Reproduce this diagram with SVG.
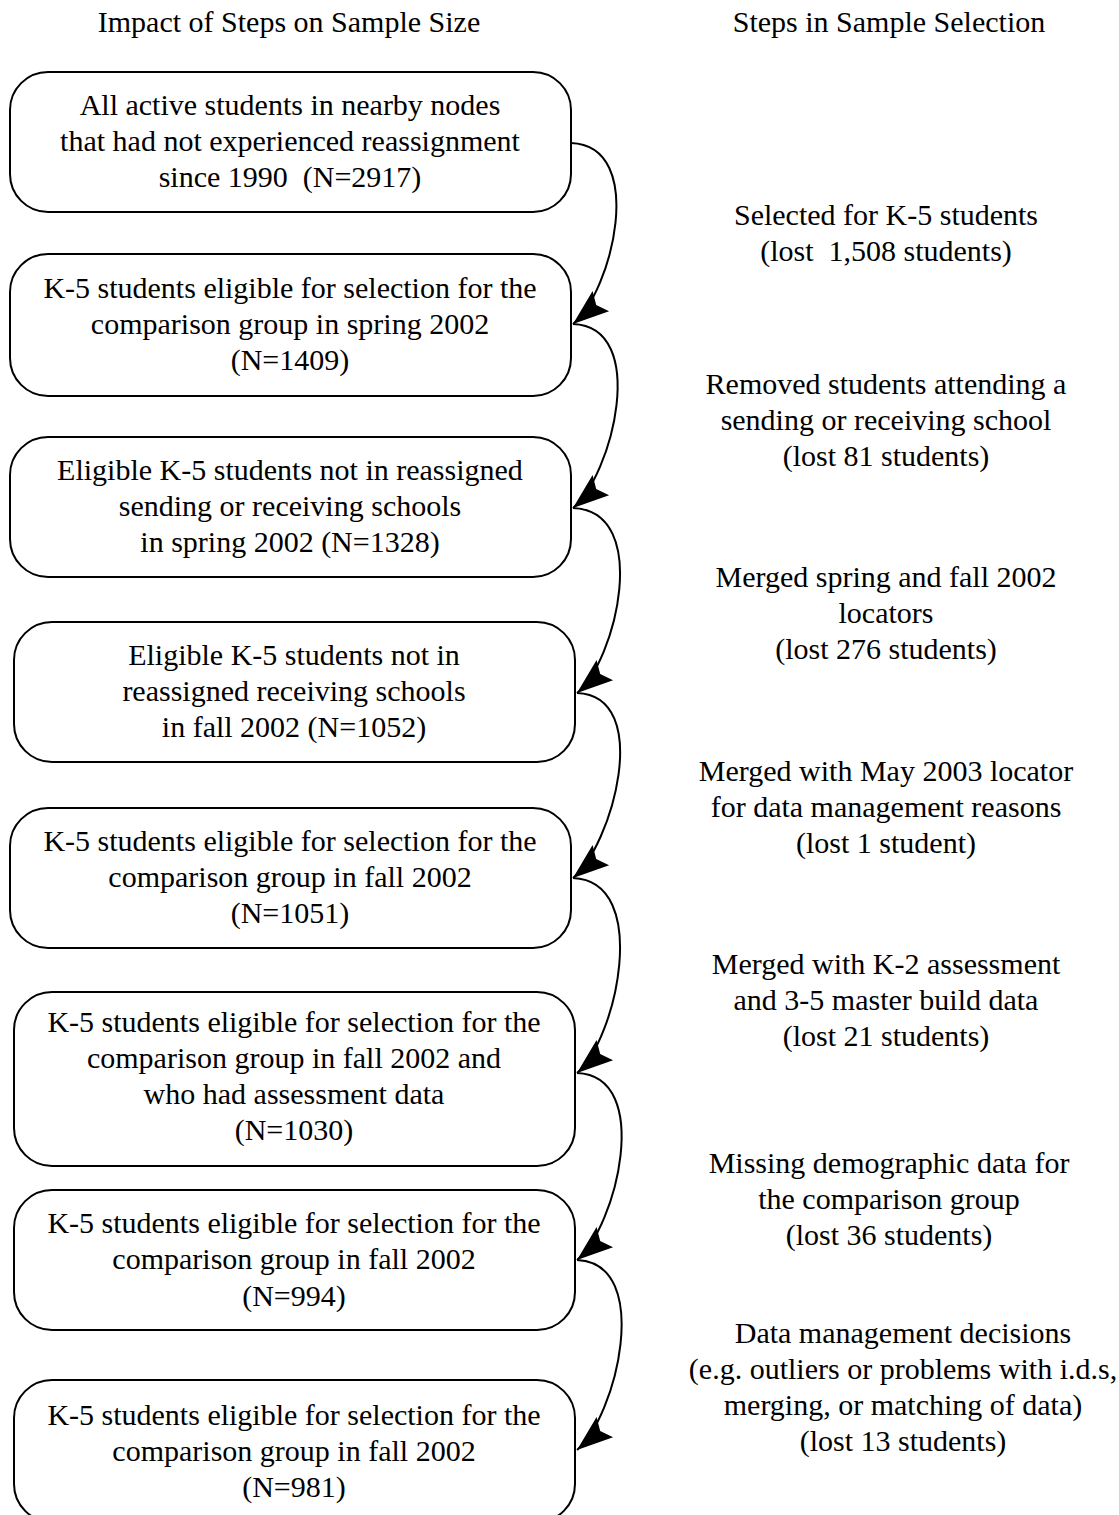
<svg xmlns="http://www.w3.org/2000/svg" width="1119" height="1515" viewBox="0 0 1119 1515">
<style>
text{font-family:"Liberation Serif","Times New Roman",serif;font-size:30px;fill:#000;text-anchor:middle}
.box{fill:#fff;stroke:#000;stroke-width:2}
.con{fill:none;stroke:#000;stroke-width:2}
</style>
<defs>
<marker id="ah" markerUnits="userSpaceOnUse" viewBox="-38 -15 40 30" markerWidth="40" markerHeight="30" refX="0" refY="0" orient="auto">
<path d="M0,0 L-36,-13 L-30,0 L-36,13 Z" fill="#000"/>
</marker>
</defs>
<rect width="1119" height="1515" fill="#fff"/>
<g id="headers">
<text x="289" y="32">Impact of Steps on Sample Size</text>
<text x="889" y="32">Steps in Sample Selection</text>
</g>
<g id="node1">
<rect class="box" x="10" y="72" width="561" height="140" rx="38"/>
<text x="290" y="115">All active students in nearby nodes</text>
<text x="290" y="151">that had not experienced reassignment</text>
<text x="290" y="187" xml:space="preserve">since 1990  (N=2917)</text>
</g>
<g id="node2">
<rect class="box" x="10" y="254" width="561" height="142" rx="38"/>
<text x="290" y="298">K-5 students eligible for selection for the</text>
<text x="290" y="334">comparison group in spring 2002</text>
<text x="290" y="370">(N=1409)</text>
</g>
<g id="node3">
<rect class="box" x="10" y="437" width="561" height="140" rx="38"/>
<text x="290" y="480">Eligible K-5 students not in reassigned</text>
<text x="290" y="516">sending or receiving schools</text>
<text x="290" y="552">in spring 2002 (N=1328)</text>
</g>
<g id="node4">
<rect class="box" x="14" y="622" width="561" height="140" rx="38"/>
<text x="294" y="665">Eligible K-5 students not in</text>
<text x="294" y="701">reassigned receiving schools</text>
<text x="294" y="737">in fall 2002 (N=1052)</text>
</g>
<g id="node5">
<rect class="box" x="10" y="808" width="561" height="140" rx="38"/>
<text x="290" y="851">K-5 students eligible for selection for the</text>
<text x="290" y="887">comparison group in fall 2002</text>
<text x="290" y="923">(N=1051)</text>
</g>
<g id="node6">
<rect class="box" x="14" y="992" width="561" height="174" rx="38"/>
<text x="294" y="1032">K-5 students eligible for selection for the</text>
<text x="294" y="1068">comparison group in fall 2002 and</text>
<text x="294" y="1104">who had assessment data</text>
<text x="294" y="1140">(N=1030)</text>
</g>
<g id="node7">
<rect class="box" x="14" y="1190" width="561" height="140" rx="38"/>
<text x="294" y="1233">K-5 students eligible for selection for the</text>
<text x="294" y="1269">comparison group in fall 2002</text>
<text x="294" y="1306">(N=994)</text>
</g>
<g id="node8">
<rect class="box" x="14" y="1380" width="561" height="142" rx="38"/>
<text x="294" y="1425">K-5 students eligible for selection for the</text>
<text x="294" y="1461">comparison group in fall 2002</text>
<text x="294" y="1497">(N=981)</text>
</g>
<g id="step-labels">
<text x="886" y="225">Selected for K-5 students</text>
<text x="886" y="261" xml:space="preserve">(lost  1,508 students)</text>
<text x="886" y="394">Removed students attending a</text>
<text x="886" y="430">sending or receiving school</text>
<text x="886" y="466">(lost 81 students)</text>
<text x="886" y="587">Merged spring and fall 2002</text>
<text x="886" y="623">locators</text>
<text x="886" y="659">(lost 276 students)</text>
<text x="886" y="781">Merged with May 2003 locator</text>
<text x="886" y="817">for data management reasons</text>
<text x="886" y="853">(lost 1 student)</text>
<text x="886" y="974">Merged with K-2 assessment</text>
<text x="886" y="1010">and 3-5 master build data</text>
<text x="886" y="1046">(lost 21 students)</text>
<text x="889" y="1173">Missing demographic data for</text>
<text x="889" y="1209">the comparison group</text>
<text x="889" y="1245">(lost 36 students)</text>
<text x="903" y="1343">Data management decisions</text>
<text x="903" y="1379">(e.g. outliers or problems with i.d.s,</text>
<text x="903" y="1415">merging, or matching of data)</text>
<text x="903" y="1451">(lost 13 students)</text>
</g>
<g id="connectors">
<path class="con" marker-end="url(#ah)" d="M571,143 C648,146 612,292 573,324"/>
<path class="con" marker-end="url(#ah)" d="M573,324 C650,327 612,476 573,508"/>
<path class="con" marker-end="url(#ah)" d="M573,508 C652,511 616,661 577,693"/>
<path class="con" marker-end="url(#ah)" d="M577,693 C654,696 612,846 573,878"/>
<path class="con" marker-end="url(#ah)" d="M573,878 C652,881 616,1041 577,1073"/>
<path class="con" marker-end="url(#ah)" d="M577,1073 C654,1076 616,1228 577,1260"/>
<path class="con" marker-end="url(#ah)" d="M577,1260 C654,1263 616,1418 577,1450"/>
</g>
</svg>
